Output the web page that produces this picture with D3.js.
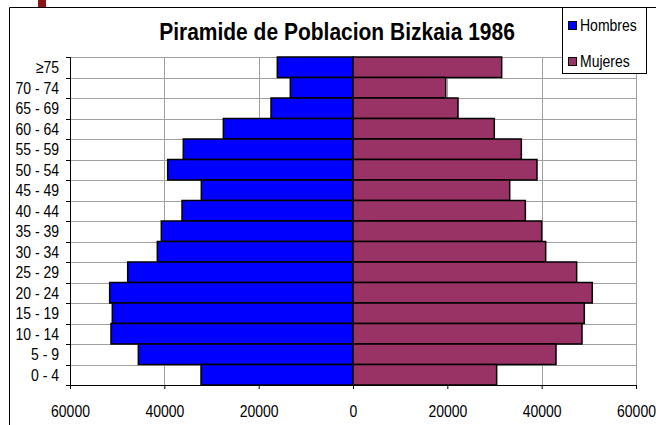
<!DOCTYPE html>
<html>
<head>
<meta charset="utf-8">
<script src="https://cdn.jsdelivr.net/npm/d3@7"></script>
<style>
  body { margin: 0; background: #fff; }
  svg { display: block; font-family: "Liberation Sans", Arial, sans-serif; }
</style>
</head>
<body>
<svg width="656" height="425"></svg>
<script>
// age groups, top to bottom
const ageGroups = ['≥75', '70 - 74', '65 - 69', '60 - 64', '55 - 59', '50 - 54', '45 - 49', '40 - 44',
  '35 - 39', '30 - 34', '25 - 29', '20 - 24', '15 - 19', '10 - 14', '5 - 9', '0 - 4'];
const hombres = [16050, 13290, 17380, 27490, 35980, 39290, 32160, 36250,
  40640, 41490, 47770, 51590, 51030, 51310, 45510, 32220];
const mujeres = [31520, 19650, 22260, 29960, 35690, 39010, 33220, 36540,
  40000, 40850, 47420, 50730, 49040, 48550, 43040, 30460];
const xTicks = [-60000, -40000, -20000, 0, 20000, 40000, 60000];

const svg = d3.select('svg');
const stretch = 'scale(1,1.2)'; // the original text is drawn a bit tall

// outer frame (only top and left visible) + little red mark
svg.append('rect').attr('x', 38).attr('y', 0).attr('width', 8).attr('height', 7).attr('fill', '#8b1414');
svg.append('path').attr('d', 'M9.5,425 V7.5 H656').attr('fill', 'none').attr('stroke', '#000');

const x = d3.scaleLinear().domain([-60000, 60000]).range([70, 636]);
const y = d3.scaleBand().domain(ageGroups).range([57, 385]).padding(0);

// grid
const grid = svg.append('g').attr('stroke', '#a0a0a0').attr('stroke-width', 1);
grid.selectAll('.vg').data(xTicks.slice(1)).enter().append('line')
  .attr('x1', d => Math.round(x(d)) + 0.5).attr('x2', d => Math.round(x(d)) + 0.5)
  .attr('y1', 57).attr('y2', 385);
grid.selectAll('.hg').data(ageGroups).enter().append('line')
  .attr('x1', 70).attr('x2', 636)
  .attr('y1', d => Math.round(y(d)) + 0.5).attr('y2', d => Math.round(y(d)) + 0.5);

// bars
const bars = svg.append('g').attr('stroke', '#000').attr('stroke-width', 1.5);
bars.selectAll('.h').data(ageGroups).enter().append('rect')
  .attr('x', (d, i) => x(-hombres[i])).attr('width', (d, i) => x(0) - x(-hombres[i]))
  .attr('y', d => y(d)).attr('height', y.bandwidth())
  .attr('fill', '#0000ff');
bars.selectAll('.m').data(ageGroups).enter().append('rect')
  .attr('x', x(0)).attr('width', (d, i) => x(mujeres[i]) - x(0))
  .attr('y', d => y(d)).attr('height', y.bandwidth())
  .attr('fill', '#993366');

// x axis
const xAxis = svg.append('g').attr('transform', 'translate(0,385)')
  .call(d3.axisBottom(x).tickValues(xTicks).tickFormat(d => Math.abs(d)).tickSize(4).tickSizeOuter(0));
xAxis.select('.domain').attr('stroke', '#000');
xAxis.selectAll('text').attr('font-size', 14).attr('y', 0).attr('dy', 0)
  .attr('dominant-baseline', 'central')
  .attr('transform', 'translate(0,26) ' + stretch)
  .attr('fill', '#000').attr('font-family', '"Liberation Sans", Arial, sans-serif');

// y axis: labels centred in bands, ticks between bands
const yAxis = svg.append('g').attr('transform', 'translate(70,0)')
  .call(d3.axisLeft(y).tickSize(0).tickPadding(11));
yAxis.select('.domain').attr('stroke', '#000').attr('d', 'M0.5,57V385');
yAxis.selectAll('text').attr('font-size', 14).attr('dy', 0).attr('dominant-baseline', 'central')
  .attr('transform', stretch).attr('fill', '#000')
  .attr('font-family', '"Liberation Sans", Arial, sans-serif');
yAxis.selectAll('.bt').data(ageGroups.concat([null])).enter().append('line')
  .attr('x1', -4).attr('x2', 0).attr('stroke', '#000')
  .attr('y1', (d, i) => Math.round(i < ageGroups.length ? y(d) : y.range()[1]) + 0.5)
  .attr('y2', (d, i) => Math.round(i < ageGroups.length ? y(d) : y.range()[1]) + 0.5);

// title
svg.append('text').attr('transform', 'translate(337,40) scale(1,1.15)').attr('text-anchor', 'middle')
  .attr('font-size', 21).attr('font-weight', 'bold')
  .text('Piramide de Poblacion Bizkaia 1986');

// legend
const lg = svg.append('g');
lg.append('rect').attr('x', 562.5).attr('y', 7.5).attr('width', 84).attr('height', 66)
  .attr('fill', '#fff').attr('stroke', '#000');
const legendItems = [['Hombres', '#0000ff'], ['Mujeres', '#993366']];
legendItems.forEach((it, i) => {
  lg.append('rect').attr('x', 568.5).attr('y', 21.5 + i * 36).attr('width', 8).attr('height', 8)
    .attr('fill', it[1]).attr('stroke', '#000');
  lg.append('text').attr('transform', `translate(580,${25.5 + i * 36}) ${stretch}`)
    .attr('dominant-baseline', 'central').attr('font-size', 14).text(it[0]);
});
</script>
</body>
</html>
